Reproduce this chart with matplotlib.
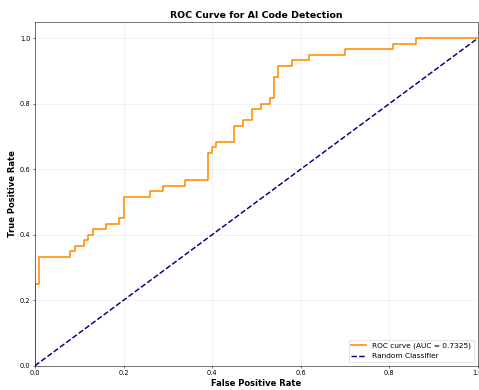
"""ROC curve for the AI code detection classifier."""

import matplotlib

matplotlib.use("Agg")
import matplotlib.pyplot as plt

# step points of the ROC curve
fpr = [0.00, 0.00, 0.01, 0.01, 0.08, 0.08, 0.09, 0.09, 0.11, 0.11,
       0.12, 0.12, 0.13, 0.13, 0.16, 0.16, 0.19, 0.19, 0.20, 0.20,
       0.26, 0.26, 0.29, 0.29, 0.34, 0.34, 0.39, 0.39, 0.40, 0.40,
       0.41, 0.41, 0.45, 0.45, 0.47, 0.47, 0.49, 0.49, 0.51, 0.51,
       0.53, 0.53, 0.54, 0.54, 0.55, 0.55, 0.58, 0.58, 0.62, 0.62,
       0.70, 0.70, 0.81, 0.81, 0.86, 0.86, 1.00]
tpr = [0.000, 0.250, 0.250, 0.333, 0.333, 0.350, 0.350, 0.367, 0.367, 0.383,
       0.383, 0.400, 0.400, 0.417, 0.417, 0.433, 0.433, 0.450, 0.450, 0.517,
       0.517, 0.533, 0.533, 0.550, 0.550, 0.567, 0.567, 0.650, 0.650, 0.667,
       0.667, 0.683, 0.683, 0.733, 0.733, 0.750, 0.750, 0.783, 0.783, 0.800,
       0.800, 0.817, 0.817, 0.883, 0.883, 0.917, 0.917, 0.933, 0.933, 0.950,
       0.950, 0.967, 0.967, 0.983, 0.983, 1.000, 1.000]
roc_auc = 0.7325

diag = [0, 1]

fig = plt.figure(figsize=(10, 8.142))
ax = fig.add_axes([0.0731, 0.0623, 0.9238, 0.881])

ax.plot(fpr, tpr, color="darkorange", lw=2.4, label=f"ROC curve (AUC = {roc_auc:.4f})")
ax.plot(diag, diag, color="navy", lw=2.2, linestyle="--", label="Random Classifier")

ax.set_xlim(0.0, 1.0)
ax.set_ylim(0.0, 1.05)
ax.set_xlabel("False Positive Rate", fontsize=12.5, fontweight="bold")
ax.set_ylabel("True Positive Rate", fontsize=12.5, fontweight="bold")
ax.set_title("ROC Curve for AI Code Detection", fontsize=14.2, fontweight="bold")
ax.legend(loc="lower right", fontsize=11)
ax.grid(True, alpha=0.3)

fig.savefig("out.png", dpi=47.9)
plt.close(fig)
